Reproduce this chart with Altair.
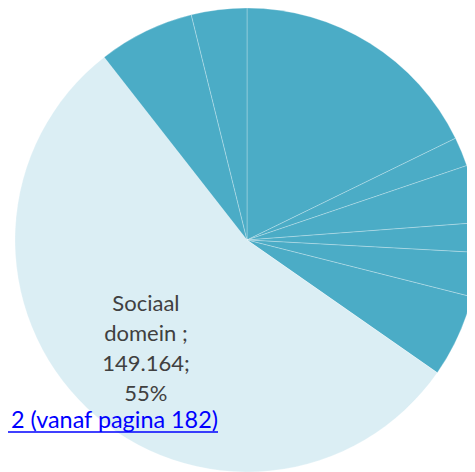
import altair as alt
import pandas as pd

# Slices, clockwise from 12 o'clock (values in thousands)
categories = ["Bestuur", "Veiligheid", "Verkeer en vervoer", "Economie", "Onderwijs",
              "Sport, cultuur en recreatie", "Sociaal domein", "Volksgezondheid en milieu",
              "Wonen en bouwen"]
values = [48432, 5524, 10897, 5600, 8400, 15665, 149164, 18238, 10519]
labels = ["", "", "", "", "", "", "Sociaal\ndomein ;\n149.164;\n55%", "", ""]
slice_colors = ["#4BACC6"] * 6 + ["#DBEEF4"] + ["#4BACC6"] * 2
link_text = ["2 (vanaf pagina 182)"]

df = pd.DataFrame({"cat": categories, "value": values, "label": labels,
                   "idx": list(range(len(categories)))})

cx, cy, R = 239, 232, 232

base = alt.Chart(df).encode(
    theta=alt.Theta("value:Q", stack=True),
    order=alt.Order("idx:Q"),
)

arcs = base.mark_arc(radius=R, stroke="white", strokeWidth=0.6, strokeOpacity=0.45).encode(
    color=alt.Color("cat:N", scale=alt.Scale(domain=categories, range=slice_colors), legend=None),
    x=alt.value(cx), y=alt.value(cy),
)

text = base.mark_text(radius=147, font="Lato", fontSize=22, color="#404040", dy=-43,
                      lineBreak="\n", lineHeight=30, align="center", baseline="middle").encode(
    text="label:N", x=alt.value(cx), y=alt.value(cy),
)

link_df = pd.DataFrame({"t": link_text})
link = alt.Chart(link_df).mark_text(font="Lato", fontSize=23.4, color="#0000FF",
                                    align="right", baseline="alphabetic").encode(
    text="t:N", x=alt.value(210), y=alt.value(420),
)
underline = alt.Chart(link_df).mark_rule(color="#0000FF", strokeWidth=1.5).encode(
    x=alt.value(0), x2=alt.value(210), y=alt.value(424),
)

chart = alt.layer(arcs, text, link, underline).properties(
    width=459, height=464, padding=0, autosize=alt.AutoSizeParams(type="none")
).configure_view(stroke=None)

chart.save("out.html", embed_options={"renderer": "svg", "actions": False})
